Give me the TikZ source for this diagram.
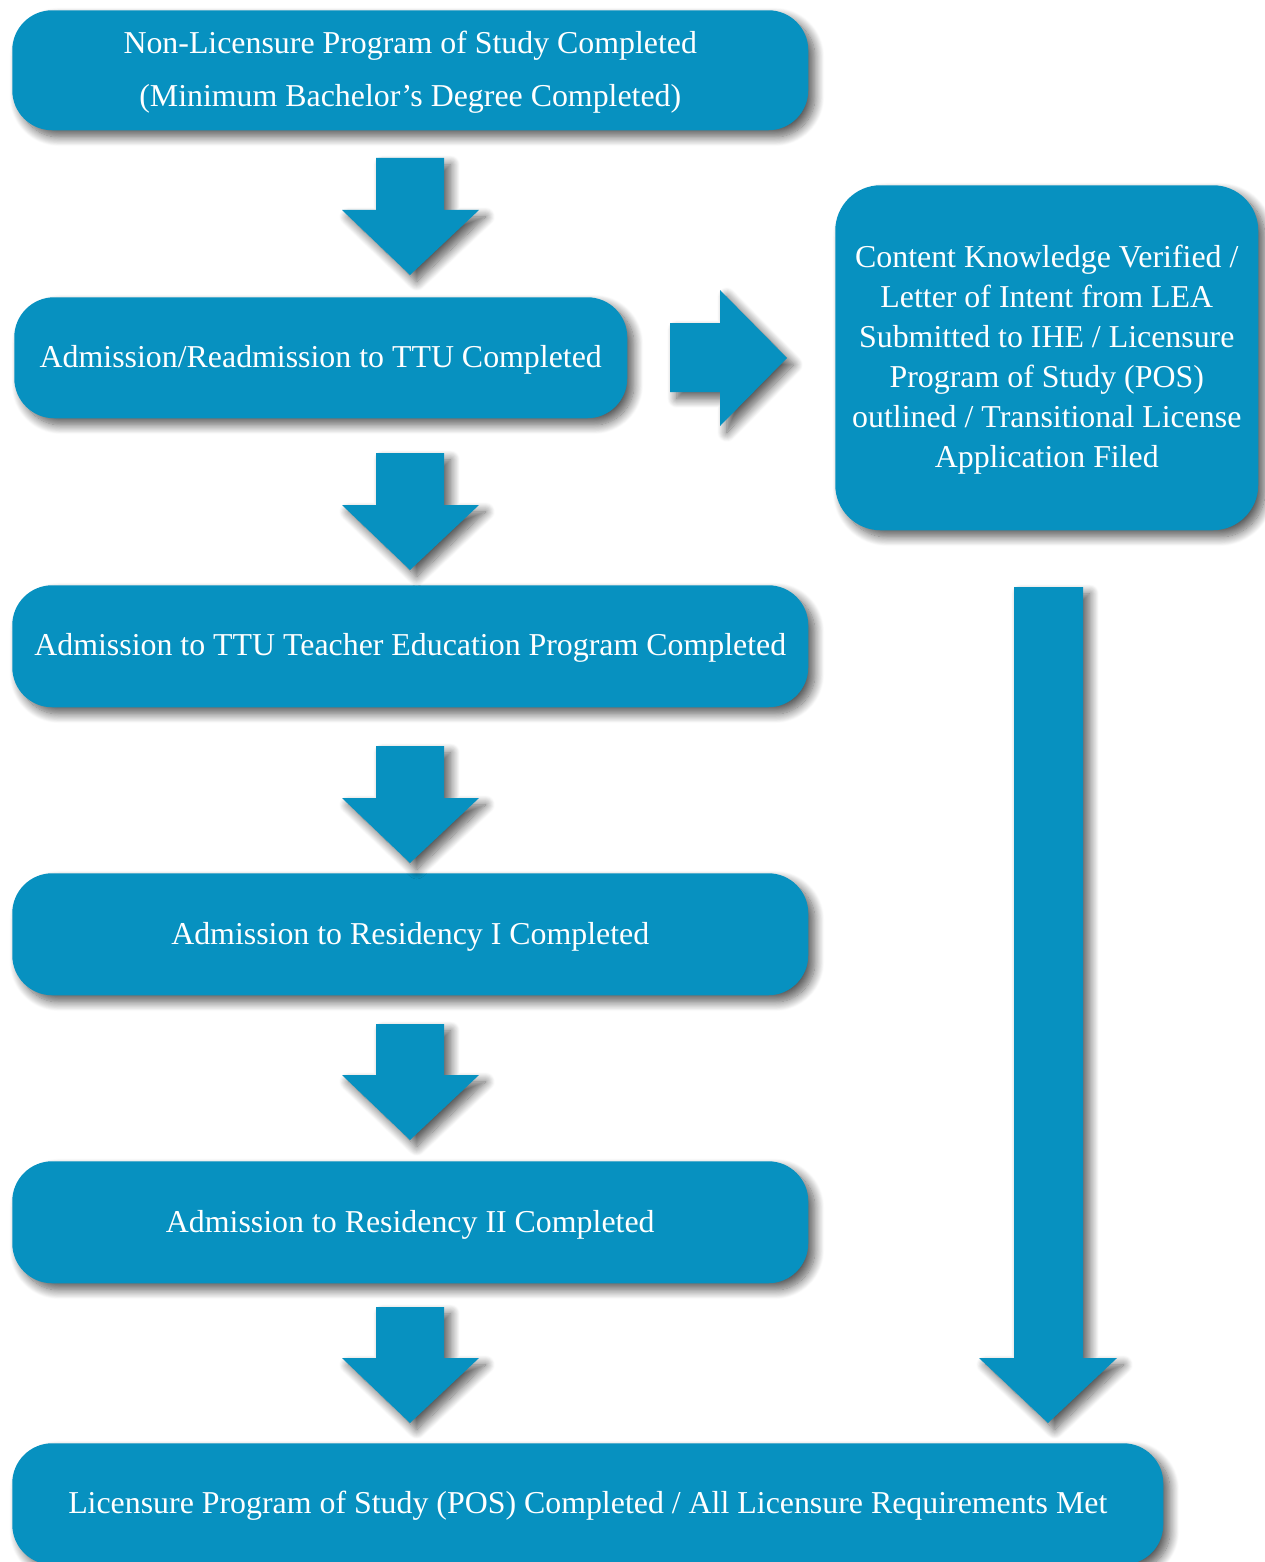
\documentclass[tikz,border=0pt]{standalone}
\usepackage{fontspec}
\setmainfont{Liberation Serif}
\usepackage{tikz}
\usetikzlibrary{shadows.blur}
\definecolor{ttublue}{RGB}{7,145,192}

\begin{document}
\begin{tikzpicture}[x=0.75pt,y=-0.75pt]
		\tikzstyle{shade}=[blur shadow={shadow xshift=5pt,shadow yshift=-5pt,shadow blur radius=7pt,shadow blur steps=12,shadow opacity=65}]
		\tikzstyle{step box}=[rectangle,rounded corners=30pt,fill=ttublue,text=white,shade,anchor=north west,align=center,font=\fontsize{23.9}{30}\selectfont,inner sep=0pt,text depth=2pt]
		\tikzstyle{block}=[fill=ttublue,shade]
		\useasboundingbox (0,0) rectangle (1264,1562);
		
		\node[step box,minimum width=597pt,minimum height=90pt,font=\fontsize{23.9}{40}\selectfont] (degree) at (12,10) {Non-Licensure Program of Study Completed\\(Minimum Bachelor’s Degree Completed)};
		\node[step box,minimum width=459.75pt,minimum height=90.75pt] (admit) at (14,297) {Admission/Readmission to TTU Completed};
		\node[step box,rounded corners=34pt,minimum width=317.25pt,minimum height=258.75pt] (content) at (835,185) {Content Knowledge Verified /\\Letter of Intent from LEA\\Submitted to IHE / Licensure\\Program of Study (POS)\\outlined / Transitional License\\Application Filed};
		\node[step box,minimum width=597pt,minimum height=91.5pt] (tep) at (12,585) {Admission to TTU Teacher Education Program Completed};
		\node[step box,minimum width=597pt,minimum height=91.5pt] (res1) at (12,873) {Admission to Residency I Completed};
		\node[step box,minimum width=597pt,minimum height=91.5pt] (res2) at (12,1161) {Admission to Residency II Completed};
		\node[step box,minimum width=863.25pt,minimum height=91pt] (pos) at (12,1443) {Licensure Program of Study (POS) Completed / All Licensure Requirements Met};
		
		% block arrows between the steps
		\fill[block] (376,158) -- (444,158) -- (444,210) -- (479,210) -- (410,275) -- (342,210) -- (376,210) -- cycle;
		\fill[block] (376,453) -- (444,453) -- (444,505) -- (479,505) -- (410,570) -- (342,505) -- (376,505) -- cycle;
		\fill[block] (376,746) -- (444,746) -- (444,798) -- (479,798) -- (410,863) -- (342,798) -- (376,798) -- cycle;
		\fill[block] (376,1024) -- (444,1024) -- (444,1075) -- (479,1075) -- (410,1140) -- (342,1075) -- (376,1075) -- cycle;
		\fill[block] (376,1307) -- (444,1307) -- (444,1358) -- (479,1358) -- (410,1423) -- (342,1358) -- (376,1358) -- cycle;
		
		\fill[block] (670,323) -- (720,323) -- (720,290) -- (787,358) -- (720,426) -- (720,392) -- (670,392) -- cycle;
		\fill[block] (1014,587) -- (1083,587) -- (1083,1358) -- (1117,1358) -- (1048,1423) -- (979,1358) -- (1014,1358) -- cycle;
		
		\end{tikzpicture}
\end{document}
